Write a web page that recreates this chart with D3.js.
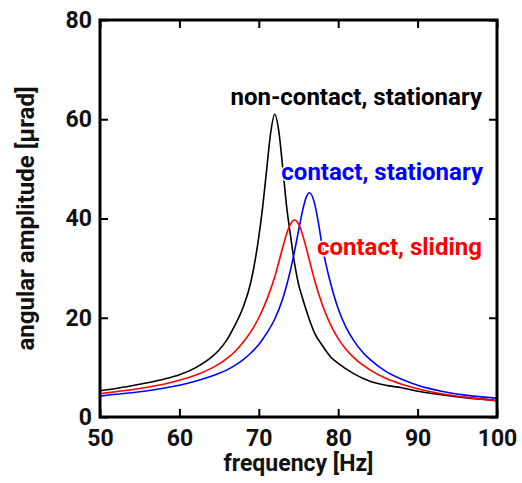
<!DOCTYPE html>
<html>
<head>
<meta charset="utf-8">
<script src="https://cdn.jsdelivr.net/npm/d3@7"></script>
<style>
  body { margin: 0; background: #fff; }
  text { font-family: Roboto, "Liberation Sans", sans-serif; font-weight: 700; }
</style>
</head>
<body>
<div id="vis"></div>
<script>
// values (Hz, µrad)
let freqBlack = [50, 52, 54, 56, 58, 60, 62, 64, 65, 66, 67, 68, 69, 70, 70.5, 71, 71.5, 72, 72.5, 73, 73.5, 74, 74.5, 75, 75.5, 76, 77, 78, 79, 80, 82, 84, 86, 88, 90, 93, 96, 100]
let ampBlack  = [5.3, 5.75, 6.3, 6.9, 7.6, 8.5, 9.9, 12.0, 13.5, 15.6, 18.5, 22.0, 27.2, 36.3, 42.5, 50.0, 57.3, 61.0, 57.8, 50.5, 42.5, 36.5, 31.0, 26.8, 24.0, 21.4, 17.0, 14.4, 12.2, 10.8, 8.7, 7.2, 6.4, 5.9, 5.2, 4.5, 3.9, 3.3]

let freqRed = [50, 52, 54, 56, 58, 60, 62, 64, 65, 66, 67, 68, 69, 70, 71, 72, 72.5, 73, 73.5, 74, 74.5, 75, 75.5, 76, 76.5, 77, 78, 79, 80, 81, 82, 84, 86, 88, 90, 93, 96, 100]
let ampRed  = [4.7, 5.1, 5.5, 6.0, 6.6, 7.4, 8.4, 9.8, 10.7, 11.8, 13.2, 15.0, 17.2, 20.0, 23.6, 28.2, 31.1, 34.1, 36.9, 38.9, 39.7, 38.9, 36.8, 33.9, 30.8, 27.7, 22.6, 18.7, 15.8, 13.6, 11.9, 9.5, 7.8, 6.6, 5.7, 4.7, 4.0, 3.3]

let freqBlue = [50, 52, 54, 56, 58, 60, 62, 64, 65, 66, 67, 68, 69, 70, 71, 72, 73, 73.5, 74, 74.5, 75, 75.5, 76, 76.4, 77, 77.5, 78, 78.5, 79, 80, 81, 82, 83, 84, 86, 88, 90, 93, 96, 100]
let ampBlue  = [4.2, 4.6, 4.9, 5.3, 5.8, 6.4, 7.2, 8.2, 8.8, 9.5, 10.4, 11.5, 12.9, 14.6, 16.9, 19.7, 23.8, 26.5, 29.7, 33.4, 37.5, 41.5, 44.4, 45.2, 43.2, 39.2, 34.3, 30.5, 27.2, 21.8, 18.0, 15.3, 13.2, 11.6, 9.2, 7.6, 6.4, 5.2, 4.4, 3.8]

let xTicks = [50, 60, 70, 80, 90, 100]
let yTicks = [0, 20, 40, 60, 80]

let series = [
    {name: "non-contact, stationary", color: "#000", f: freqBlack, a: ampBlack, lx: 482, ly: 105},
    {name: "contact, stationary", color: "#0000ff", f: freqBlue, a: ampBlue, lx: 483, ly: 180},
    {name: "contact, sliding", color: "#ff0000", f: freqRed, a: ampRed, lx: 482, ly: 255}
]

let W = 522, H = 483
let mLeft = 100, mRight = 497, mTop = 20, mBottom = 417

let svg = d3.select("#vis").append("svg")
            .attr("width", W)
            .attr("height", H)

let x = d3.scaleLinear().domain([50, 100]).range([mLeft, mRight])
let y = d3.scaleLinear().domain([0, 80]).range([mBottom, mTop])

let line = d3.line()
    .x(d => x(d[0]))
    .y(d => y(d[1]))
    .curve(d3.curveMonotoneX)

svg.append("g")
    .selectAll("path")
    .data(series)
    .join("path")
    .attr("fill", "none")
    .attr("stroke", d => d.color)
    .attr("stroke-width", 1.6)
    .attr("d", d => line(d.f.map((f, i) => [f, d.a[i]])))

// ticks on all four sides, pointing inwards
let tl = 8
svg.append("g").attr("transform", `translate(0,${mBottom})`)
    .call(d3.axisBottom(x).tickValues(xTicks).tickSize(-tl).tickPadding(13).tickFormat(d3.format("d")))
svg.append("g").attr("transform", `translate(0,${mTop})`)
    .call(d3.axisTop(x).tickValues(xTicks).tickSize(-tl).tickFormat(""))
svg.append("g").attr("transform", `translate(${mLeft},0)`)
    .call(d3.axisLeft(y).tickValues(yTicks).tickSize(-tl).tickPadding(8).tickFormat(d3.format("d")))
svg.append("g").attr("transform", `translate(${mRight},0)`)
    .call(d3.axisRight(y).tickValues(yTicks).tickSize(-tl).tickFormat(""))

svg.selectAll(".domain").remove()
svg.selectAll(".tick line").attr("stroke", "#000").attr("stroke-width", 2)
svg.selectAll(".tick text")
    .attr("fill", "#111")
    .style("font-size", "23px")

// frame
svg.append("rect")
    .attr("x", mLeft).attr("y", mTop)
    .attr("width", mRight - mLeft).attr("height", mBottom - mTop)
    .attr("fill", "none")
    .attr("stroke", "#000")
    .attr("stroke-width", 3)

// labels with white halo
svg.append("g")
    .selectAll("text")
    .data(series)
    .join("text")
    .attr("x", d => d.lx)
    .attr("y", d => d.ly)
    .attr("text-anchor", "end")
    .attr("fill", d => d.color)
    .attr("stroke", "#fff")
    .attr("stroke-width", 3)
    .attr("paint-order", "stroke")
    .style("font-size", "24px")
    .text(d => d.name)

// axis titles
svg.append("text")
    .attr("x", (mLeft + mRight) / 2)
    .attr("y", 471)
    .attr("text-anchor", "middle")
    .attr("fill", "#111")
    .style("font-size", "23px")
    .text("frequency [Hz]")

svg.append("text")
    .attr("transform", `translate(34,${(mTop + mBottom) / 2}) rotate(-90)`)
    .attr("text-anchor", "middle")
    .attr("fill", "#111")
    .style("font-size", "24px")
    .text("angular amplitude [μrad]")
</script>
</body>
</html>
